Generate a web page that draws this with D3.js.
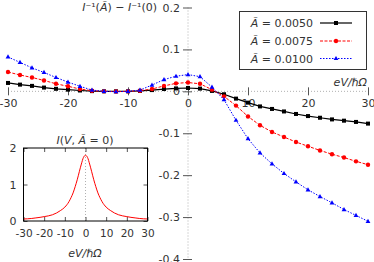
<!DOCTYPE html>
<html><head><meta charset="utf-8">
<script src="https://cdn.jsdelivr.net/npm/d3@7"></script>
<style>
html,body{margin:0;padding:0;background:#fff;}
svg text{font-family:"DejaVu Sans",sans-serif;fill:#333;}
</style></head>
<body>
<svg id="c" width="374" height="262"></svg>
<script>
// ---- data ----
const xVals = [-30,-28,-26,-24,-22,-20,-18,-16,-14,-12,-10,-8,-6,-4,-2,0,2,4,6,8,10,12,14,16,18,20,22,24,26,28,30];
const seriesA0050 = [0.020,0.016,0.013,0.009,0.006,0.004,0.002,0.0005,0.0,0.0,0.0,0.001,0.003,0.0055,0.007,0.008,0.0065,0.001,-0.007,-0.0174,-0.027,-0.036,-0.042,-0.048,-0.054,-0.059,-0.063,-0.067,-0.070,-0.073,-0.077];
const seriesA0075 = [0.046,0.039,0.033,0.026,0.018,0.012,0.0055,0.0015,0.0,-0.0005,0.0,0.0015,0.0055,0.013,0.019,0.021,0.018,0.004,-0.012,-0.034,-0.060,-0.081,-0.097,-0.109,-0.121,-0.131,-0.141,-0.150,-0.158,-0.167,-0.175];
const seriesA0100 = [0.082,0.069,0.056,0.045,0.033,0.022,0.012,0.003,0.0,-0.001,0.0,0.003,0.015,0.028,0.036,0.040,0.035,0.010,-0.020,-0.069,-0.113,-0.147,-0.173,-0.196,-0.216,-0.235,-0.251,-0.266,-0.282,-0.296,-0.310];
const seriesLabels = ["0.0050","0.0075","0.0100"];
const xTicks = [-30,-20,-10,0,10,20,30];
const xTickLabels = ["-30","-20","-10","0","10","20","30"];
const yTicks = [0.2,0.1,0,-0.1,-0.2,-0.3,-0.4];
const yTickLabels = ["0.2","0.1","0","-0.1","-0.2","-0.3","-0.4"];
const insetX = [-30,-28,-26,-24,-22,-20,-18,-16,-14,-12,-10,-8,-7,-6,-5,-4,-3,-2,-1,0,1,2,3,4,5,6,7,8,10,12,14,16,18,20,22,24,26,28,30];
const insetY = [0.055,0.06,0.07,0.085,0.10,0.12,0.14,0.17,0.22,0.29,0.38,0.53,0.64,0.77,0.94,1.13,1.35,1.56,1.74,1.80,1.74,1.56,1.35,1.13,0.94,0.77,0.64,0.53,0.38,0.29,0.22,0.17,0.14,0.12,0.10,0.085,0.07,0.06,0.055];
const insetXTicks = [-30,-20,-10,0,10,20,30];
const insetXTickLabels = ["-30","-20","-10","0","10","20","30"];
const insetYTicks = [0,1,2];

const svg = d3.select("#c");
const x = d3.scaleLinear().domain([-30,30]).range([8,368]);
const y = d3.scaleLinear().domain([-0.4,0.2]).range([259,7.5]);
const x0 = x(0), y0 = y(0);

// zero axes (dotted)
svg.append("line").attr("x1",x(-30)).attr("x2",x(30)).attr("y1",y0).attr("y2",y0)
  .attr("stroke","#b0b0b0").attr("stroke-width",1).attr("stroke-dasharray","1,2");
svg.append("line").attr("x1",x0).attr("x2",x0).attr("y1",y(0.2)).attr("y2",y(-0.4))
  .attr("stroke","#b0b0b0").attr("stroke-width",1).attr("stroke-dasharray","1,2");

// x ticks on zero axis
const xAxis = d3.axisBottom(x).tickValues(xTicks).tickSize(0).tickFormat((d,i)=>xTickLabels[i]);
const gx = svg.append("g").attr("transform",`translate(0,${y0})`).call(xAxis);
gx.select(".domain").remove();
gx.selectAll(".tick text").attr("y",16).attr("dy","0").attr("font-size",11).attr("fill","#333").style("font-family","DejaVu Sans");
gx.selectAll(".tick").append("line").attr("y1",-4).attr("y2",4).attr("stroke","#555");

// y ticks on zero axis
const yAxis = d3.axisLeft(y).tickValues(yTicks).tickSize(0).tickFormat((d,i)=>yTickLabels[i]);
const gy = svg.append("g").attr("transform",`translate(${x0},0)`).call(yAxis);
gy.select(".domain").remove();
gy.selectAll(".tick text").attr("x",-8).attr("font-size",11).attr("fill","#333").style("font-family","DejaVu Sans");
gy.selectAll(".tick").append("line").attr("x1",-5).attr("x2",4).attr("stroke","#555");

// axis labels
const yl = svg.append("text").attr("x",157).attr("y",11).attr("text-anchor","end").attr("font-size",11);
yl.append("tspan").attr("font-style","italic").text("I");
yl.append("tspan").text("⁻¹(");
yl.append("tspan").attr("font-style","italic").text("Ã");
yl.append("tspan").text(") − ");
yl.append("tspan").attr("font-style","italic").text("I");
yl.append("tspan").text("⁻¹(0)");
svg.append("text").attr("x",367).attr("y",86).attr("text-anchor","end").attr("font-size",11)
  .attr("font-style","italic").text("eV/ℏΩ");

// series
const styles = [
  {data:seriesA0050,color:"#000",dash:null,w:1.2,marker:"square"},
  {data:seriesA0075,color:"#f00",dash:"3,1.5",w:1,marker:"circle"},
  {data:seriesA0100,color:"#00f",dash:"1.5,1.5",w:1,marker:"triangle"}
];
const line = d3.line().x(d=>x(d[0])).y(d=>y(d[1]));
function marker(g,type,color,cx,cy){
  if(type==="square") g.append("rect").attr("x",cx-2).attr("y",cy-2).attr("width",4).attr("height",4).attr("fill",color);
  else if(type==="circle") g.append("circle").attr("cx",cx).attr("cy",cy).attr("r",2.2).attr("fill",color);
  else g.append("path").attr("d",`M${cx},${cy-2.6}L${cx+2.4},${cy+1.6}L${cx-2.4},${cy+1.6}Z`).attr("fill",color);
}
styles.forEach(s=>{
  const pts = xVals.map((v,i)=>[v,s.data[i]]);
  const g = svg.append("g");
  g.append("path").attr("d",line(pts)).attr("fill","none").attr("stroke",s.color)
    .attr("stroke-width",s.w).attr("stroke-dasharray",s.dash);
  pts.forEach(p=>marker(g,s.marker,s.color,x(p[0]),y(p[1])));
});

// legend
const lg = svg.append("g");
lg.append("rect").attr("x",239.5).attr("y",11.5).attr("width",127).attr("height",58)
  .attr("fill","#fff").attr("stroke","#333").attr("stroke-width",1);
const rowsY = [23,41,58.5];
styles.forEach((s,i)=>{
  const t = lg.append("text").attr("x",313).attr("y",rowsY[i]+4).attr("text-anchor","end").attr("font-size",11);
  t.append("tspan").attr("font-style","italic").text("Ã");
  t.append("tspan").text(" = "+seriesLabels[i]);
  lg.append("line").attr("x1",320).attr("x2",352).attr("y1",rowsY[i]).attr("y2",rowsY[i])
    .attr("stroke",s.color).attr("stroke-width",s.w).attr("stroke-dasharray",s.dash);
  marker(lg,s.marker,s.color,336,rowsY[i]);
});

// inset
const ix = d3.scaleLinear().domain([-30,30]).range([23.5,147.5]);
const iy = d3.scaleLinear().domain([0,2]).range([221,148]);
const ig = svg.append("g");
ig.append("line").attr("x1",ix(0)).attr("x2",ix(0)).attr("y1",iy(2)).attr("y2",iy(0))
  .attr("stroke","#b0b0b0").attr("stroke-dasharray","1,2");
const ixAxis = d3.axisBottom(ix).tickValues(insetXTicks).tickSize(0).tickFormat((d,i)=>insetXTickLabels[i]);
const gix = ig.append("g").attr("transform",`translate(0,${iy(0)})`).call(ixAxis);
gix.select(".domain").remove();
gix.selectAll(".tick text").attr("y",16).attr("dy","0").attr("font-size",10.5).attr("fill","#333").style("font-family","DejaVu Sans");
gix.selectAll(".tick").append("line").attr("y1",0).attr("y2",-4).attr("stroke","#555");
gix.selectAll(".tick").append("line").attr("y1",iy(2)-iy(0)).attr("y2",iy(2)-iy(0)+4).attr("stroke","#555");
const iyAxis = d3.axisLeft(iy).tickValues(insetYTicks).tickSize(0).tickFormat(d3.format("d"));
const giy = ig.append("g").attr("transform",`translate(${ix(-30)},0)`).call(iyAxis);
giy.select(".domain").remove();
giy.selectAll(".tick text").attr("x",-7).attr("font-size",11).attr("fill","#333").style("font-family","DejaVu Sans");
giy.selectAll(".tick").append("line").attr("x1",0).attr("x2",4).attr("stroke","#555");
giy.selectAll(".tick").append("line").attr("x1",ix(30)-ix(-30)).attr("x2",ix(30)-ix(-30)-4).attr("stroke","#555");
const iline = d3.line().x((d,i)=>ix(insetX[i])).y(d=>iy(d)).curve(d3.curveMonotoneX);
ig.append("path").attr("d",iline(insetY)).attr("fill","none").attr("stroke","#f00").attr("stroke-width",1);
ig.append("rect").attr("x",ix(-30)).attr("y",iy(2)).attr("width",ix(30)-ix(-30)).attr("height",iy(0)-iy(2))
  .attr("fill","none").attr("stroke","#000").attr("stroke-width",1);
const it = ig.append("text").attr("x",85).attr("y",144).attr("text-anchor","middle").attr("font-size",11);
it.append("tspan").attr("font-style","italic").text("I");
it.append("tspan").text("(");
it.append("tspan").attr("font-style","italic").text("V");
it.append("tspan").text(", ");
it.append("tspan").attr("font-style","italic").text("Ã");
it.append("tspan").text(" = 0)");
ig.append("text").attr("x",85).attr("y",257).attr("text-anchor","middle").attr("font-size",11)
  .attr("font-style","italic").text("eV/ℏΩ");
</script>
</body></html>
